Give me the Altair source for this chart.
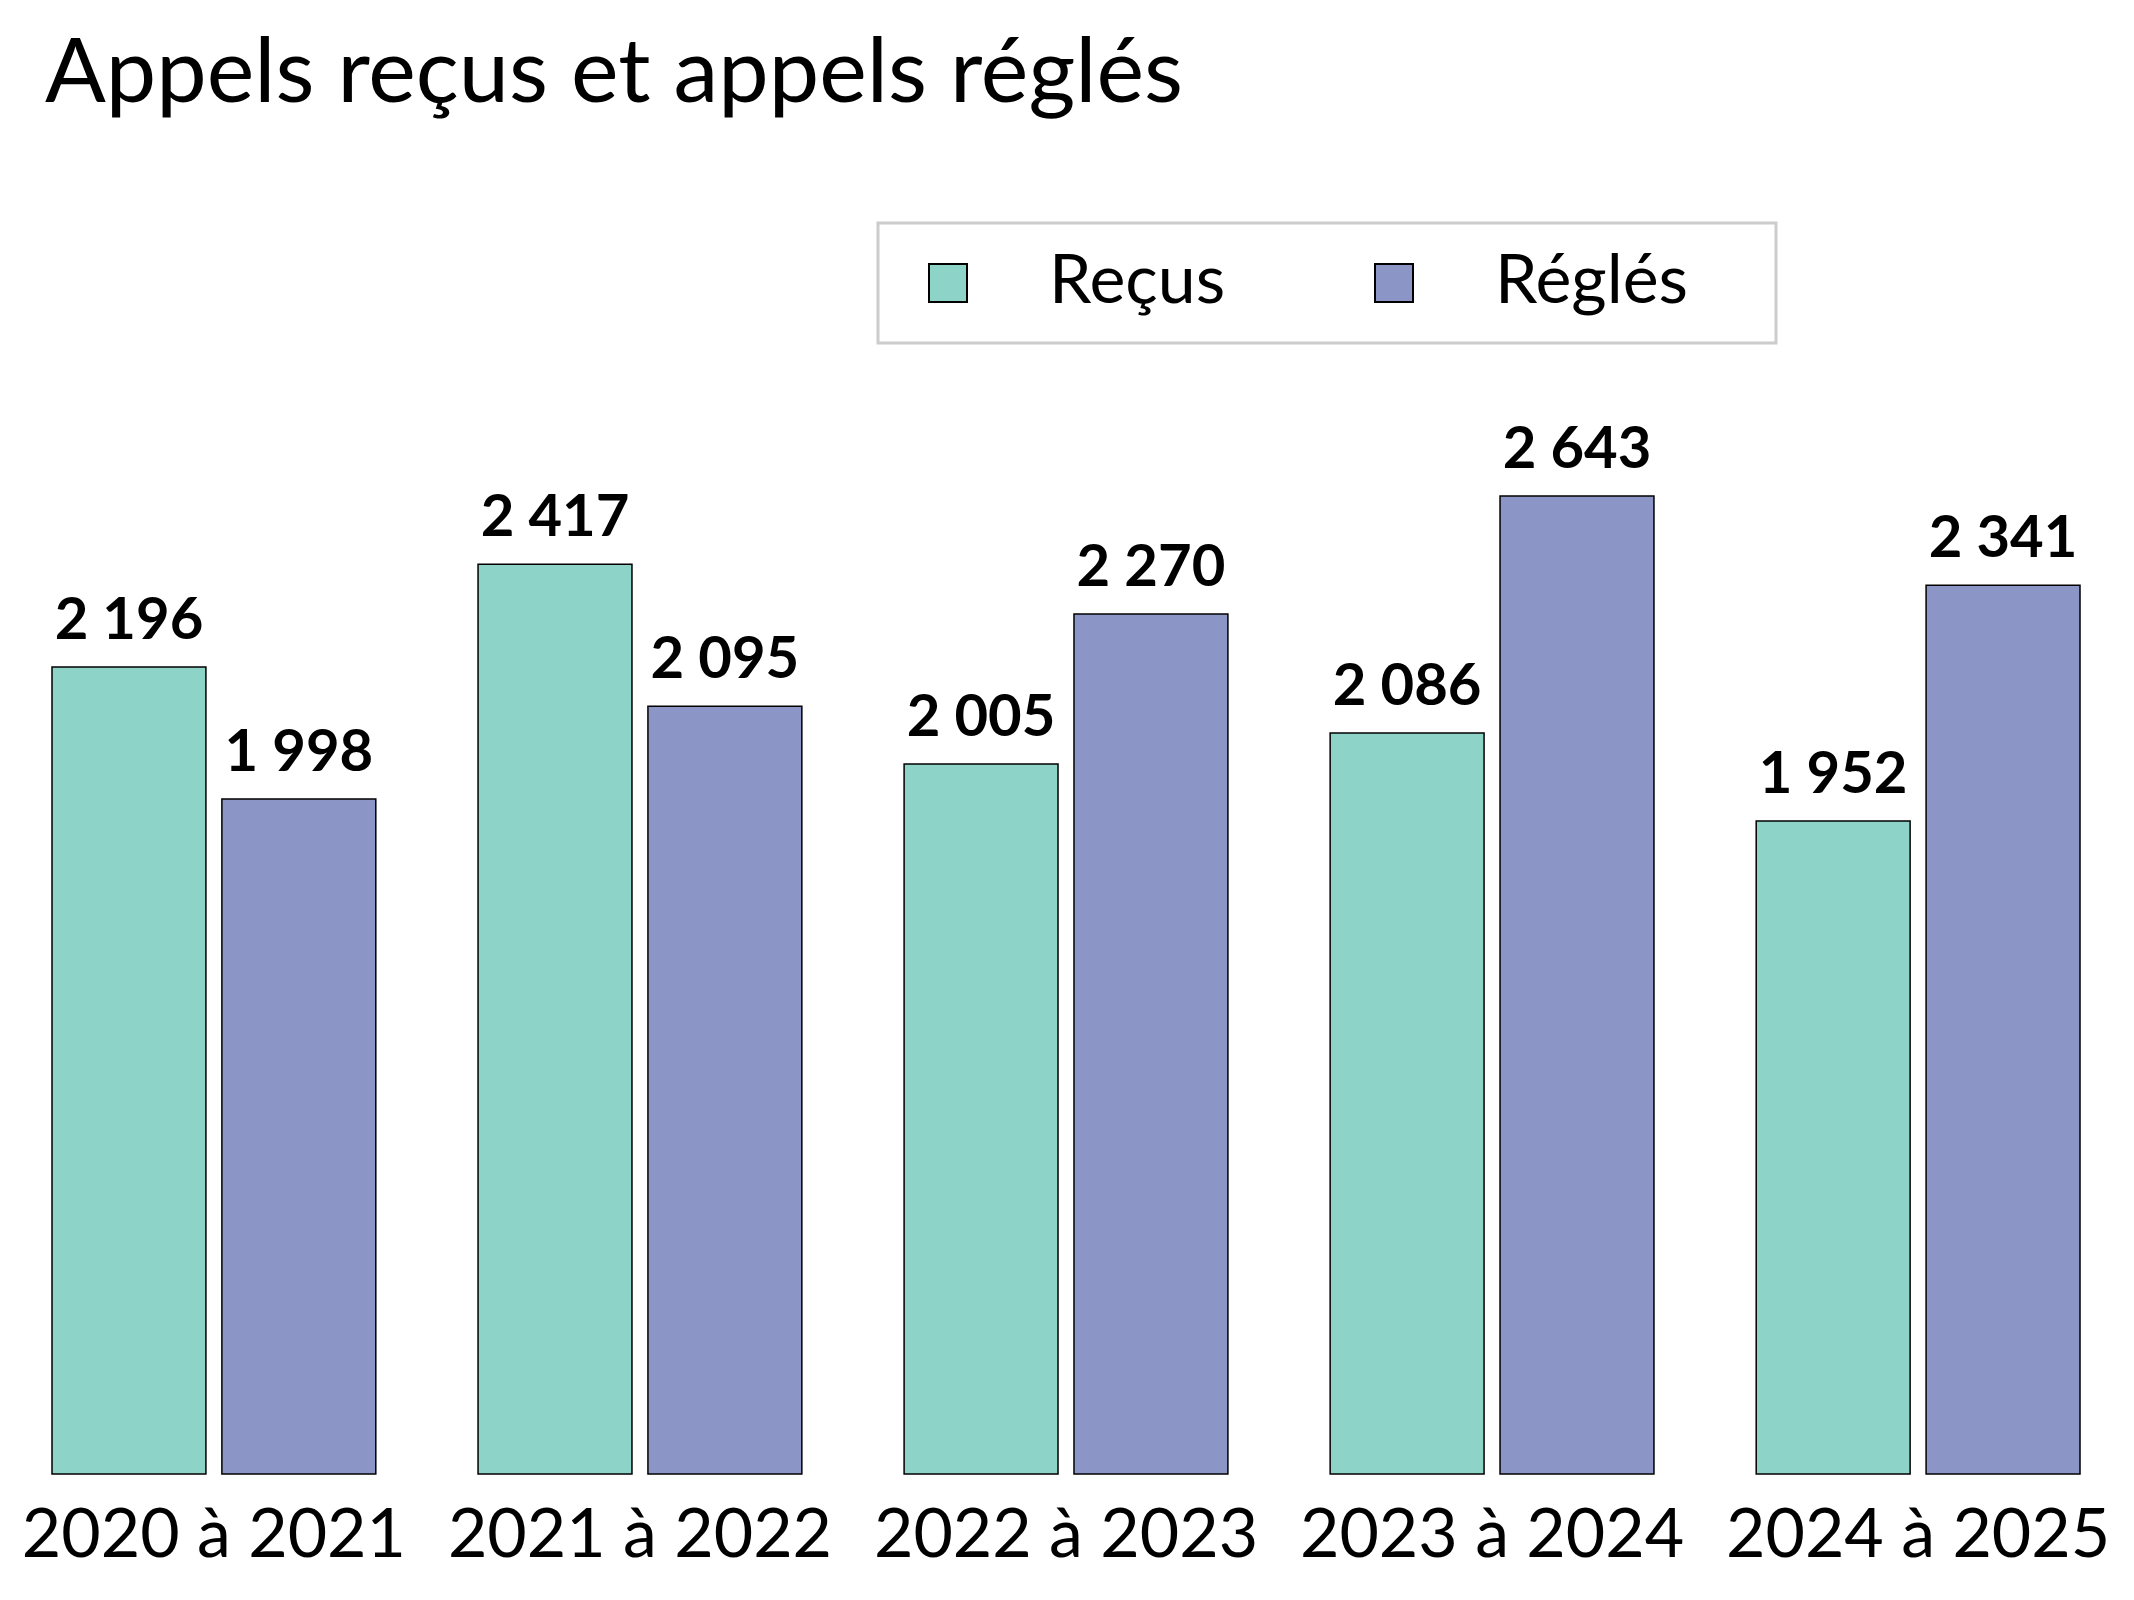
import altair as alt
import pandas as pd

periodes = ["2020 à 2021", "2021 à 2022", "2022 à 2023", "2023 à 2024", "2024 à 2025"]
series = ["Reçus", "Réglés"]
etiquettes_recus = ["2 196", "2 417", "2 005", "2 086", "1 952"]
etiquettes_regles = ["1 998", "2 095", "2 270", "2 643", "2 341"]
# bar heights (same units, tallest bar = its label)
hauteurs_recus = [2181, 2459, 1919, 2003, 1765]
hauteurs_regles = [1824, 2075, 2324, 2643, 2402]
couleurs = ["#8dd3c7", "#8c96c6"]

rows = []
for i, p in enumerate(periodes):
    rows.append({"periode": p, "serie": series[0], "hauteur": hauteurs_recus[i], "etiquette": etiquettes_recus[i]})
    rows.append({"periode": p, "serie": series[1], "hauteur": hauteurs_regles[i], "etiquette": etiquettes_regles[i]})
df = pd.DataFrame(rows)

FONT = "Lato"

base = alt.Chart(df).encode(
    x=alt.X(
        "periode:N", sort=periodes, title=None,
        scale=alt.Scale(paddingInner=0.24, paddingOuter=0),
        axis=alt.Axis(labelAngle=0, labelFontSize=68, labelFont=FONT, labelColor="black",
                      domain=False, ticks=False, tickSize=0, labelPadding=82,
                      labelBaseline="alphabetic", grid=False, labelLimit=0),
    ),
    xOffset=alt.XOffset("serie:N", sort=series, scale=alt.Scale(paddingInner=0.094, paddingOuter=0)),
    y=alt.Y("hauteur:Q", scale=alt.Scale(domain=[0, 2900], nice=False, zero=True), axis=None),
)

bars = base.mark_bar(stroke="black", strokeWidth=1.5).encode(
    color=alt.Color(
        "serie:N", sort=series,
        scale=alt.Scale(domain=series, range=couleurs),
        legend=alt.Legend(
            title=" ", titleOrient="right", titlePadding=62, titleFontSize=10,
            orient="none", legendX=826, legendY=-178,
            direction="horizontal", columns=2,
            symbolType="square", symbolSize=1444, symbolStrokeColor="black",
            symbolStrokeWidth=2, symbolOpacity=1,
            labelFont=FONT, labelFontSize=68, labelColor="black", labelOffset=67,
            labelLimit=0, columnPadding=124, padding=26, symbolOffset=10,
            strokeColor="#cccccc", fillColor="white",
        ),
    )
)

labels = base.mark_text(
    font=FONT, fontWeight="bold", fontSize=58, baseline="alphabetic", dy=-28, color="black"
).encode(text="etiquette:N")

chart = alt.layer(bars, labels).properties(
    width=2028,
    height=1073,
    padding={"left": 44, "top": 393, "right": 45, "bottom": 115},
    autosize=alt.AutoSizeParams(type="none"),
    title=alt.TitleParams(
        "Appels reçus et appels réglés", anchor="start", frame="group", font=FONT, fontSize=90,
        fontWeight="normal", color="black", dx=-7, offset=30, baseline="alphabetic",
    ),
).configure_view(stroke=None).configure_legend(strokeWidth=3)

chart.save("out.html", embed_options={"renderer": "svg", "actions": False})
